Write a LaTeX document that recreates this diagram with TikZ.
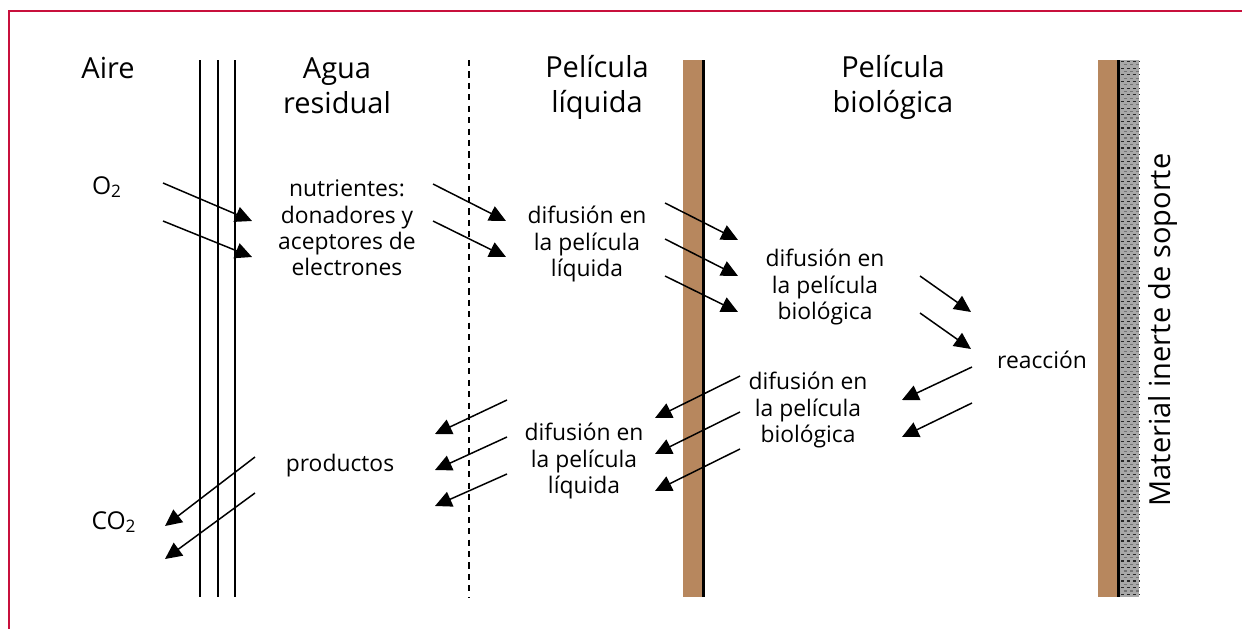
\documentclass[tikz,border=0pt]{standalone}
\usepackage{fontspec}
\setmainfont{Open Sans}
\usepackage{tikz}
\usetikzlibrary{arrows.meta}
\definecolor{marco}{RGB}{200,16,60}
\definecolor{cafe}{RGB}{183,135,94}
\definecolor{soporte}{RGB}{168,168,168}

\begin{document}
\begin{tikzpicture}[x=0.02cm,y=-0.02cm,
  titulo/.style={align=center,inner sep=0pt,font=\fontsize{16.5}{20}\selectfont},
  texto/.style={align=center,inner sep=0pt,font=\fontsize{13}{15}\selectfont},
  flecha/.style={line width=0.85pt,-{Triangle[length=9.5pt,width=9pt]}}]
  \useasboundingbox (0,0) rectangle (1242,629);
  % marco
  \draw[marco,line width=1.1pt] (9,629) -- (9,11) -- (1242,11);
  % interfaces
  \foreach \x in {200,218,235}
    \draw[line width=0.8pt] (\x,60) -- (\x,597);
  \draw[line width=0.8pt,dash pattern=on 3.5pt off 3pt] (469,60) -- (469,597);
  \fill[cafe] (683,60) rectangle (702,597);
  \draw[line width=1.7pt] (703.5,60) -- (703.5,597);
  \fill[cafe] (1098,60) rectangle (1117,597);
  \fill[soporte] (1120,60) rectangle (1139,597);
  \foreach \r in {0,...,160} {
    \pgfmathsetmacro\yy{61.5+3.33*\r}
    \pgfmathsetmacro\ph{mod(\r,2)*1.7}
    \pgfmathsetmacro\tono{ifthenelse(mod(\r,2)==0,85,55)}
    \draw[black!\tono,line width=0.7pt,dash pattern=on 1.7pt off 1.7pt,dash phase=\ph pt]
      (1121,\yy) -- (1139,\yy);
  }
  \draw[line width=1.7pt] (1118.5,60) -- (1118.5,597);

  % textos
  \node[titulo] (aire) at (108,68) {Aire};
  \node[titulo] (agua) at (337,86) {Agua\\residual};
  \node[titulo] (liq) at (597,87) {Película\\líquida};
  \node[titulo] (bio) at (893,87) {Película\\biológica};
  \node[titulo,rotate=90] (sop) at (1163,330) {Material inerte de soporte};
  \node[texto,font=\fontsize{14}{16}\selectfont] (o2) at (107,187) {O\textsubscript{2}};
  \node[texto,font=\fontsize{14}{16}\selectfont] (co2) at (114,522) {CO\textsubscript{2}};
  \node[texto] (nut) at (347,228) {nutrientes:\\donadores y\\aceptores de\\electrones};
  \node[texto] (dl1) at (587,244) {difusión en\\la película\\líquida};
  \node[texto] (db1) at (825,287) {difusión en\\la película\\biológica};
  \node[texto] (reac) at (1042,360) {reacción};
  \node[texto] (db2) at (808,410) {difusión en\\la película\\biológica};
  \node[texto] (dl2) at (584,461) {difusión en\\la película\\líquida};
  \node[texto] (prod) at (340,466) {productos};

  % flechas
  \foreach \n/\sx/\sy/\tx/\ty in {
      1/163/183/252/221, 2/163/221/252/257,
      3/433/184/506/221, 4/433/221/506/257,
      5/665/203/738/240, 6/665/239/738/276, 7/665/276/738/312,
      8/920/276/971/312, 9/920/313/971/349,
      10/972/367/902/400, 11/972/403/902/437,
      12/740/376/655/418, 13/740/412/655/454, 14/740/449/655/491,
      15/507/400/435/434, 16/507/437/435/470, 17/507/474/435/506,
      18/255/457/165/526, 19/255/493/165/559} {
    \coordinate (s\n) at (\sx,\sy);
    \coordinate (t\n) at (\tx,\ty);
    \draw[flecha] (s\n) -- (t\n);
  }
\end{tikzpicture}
\end{document}
